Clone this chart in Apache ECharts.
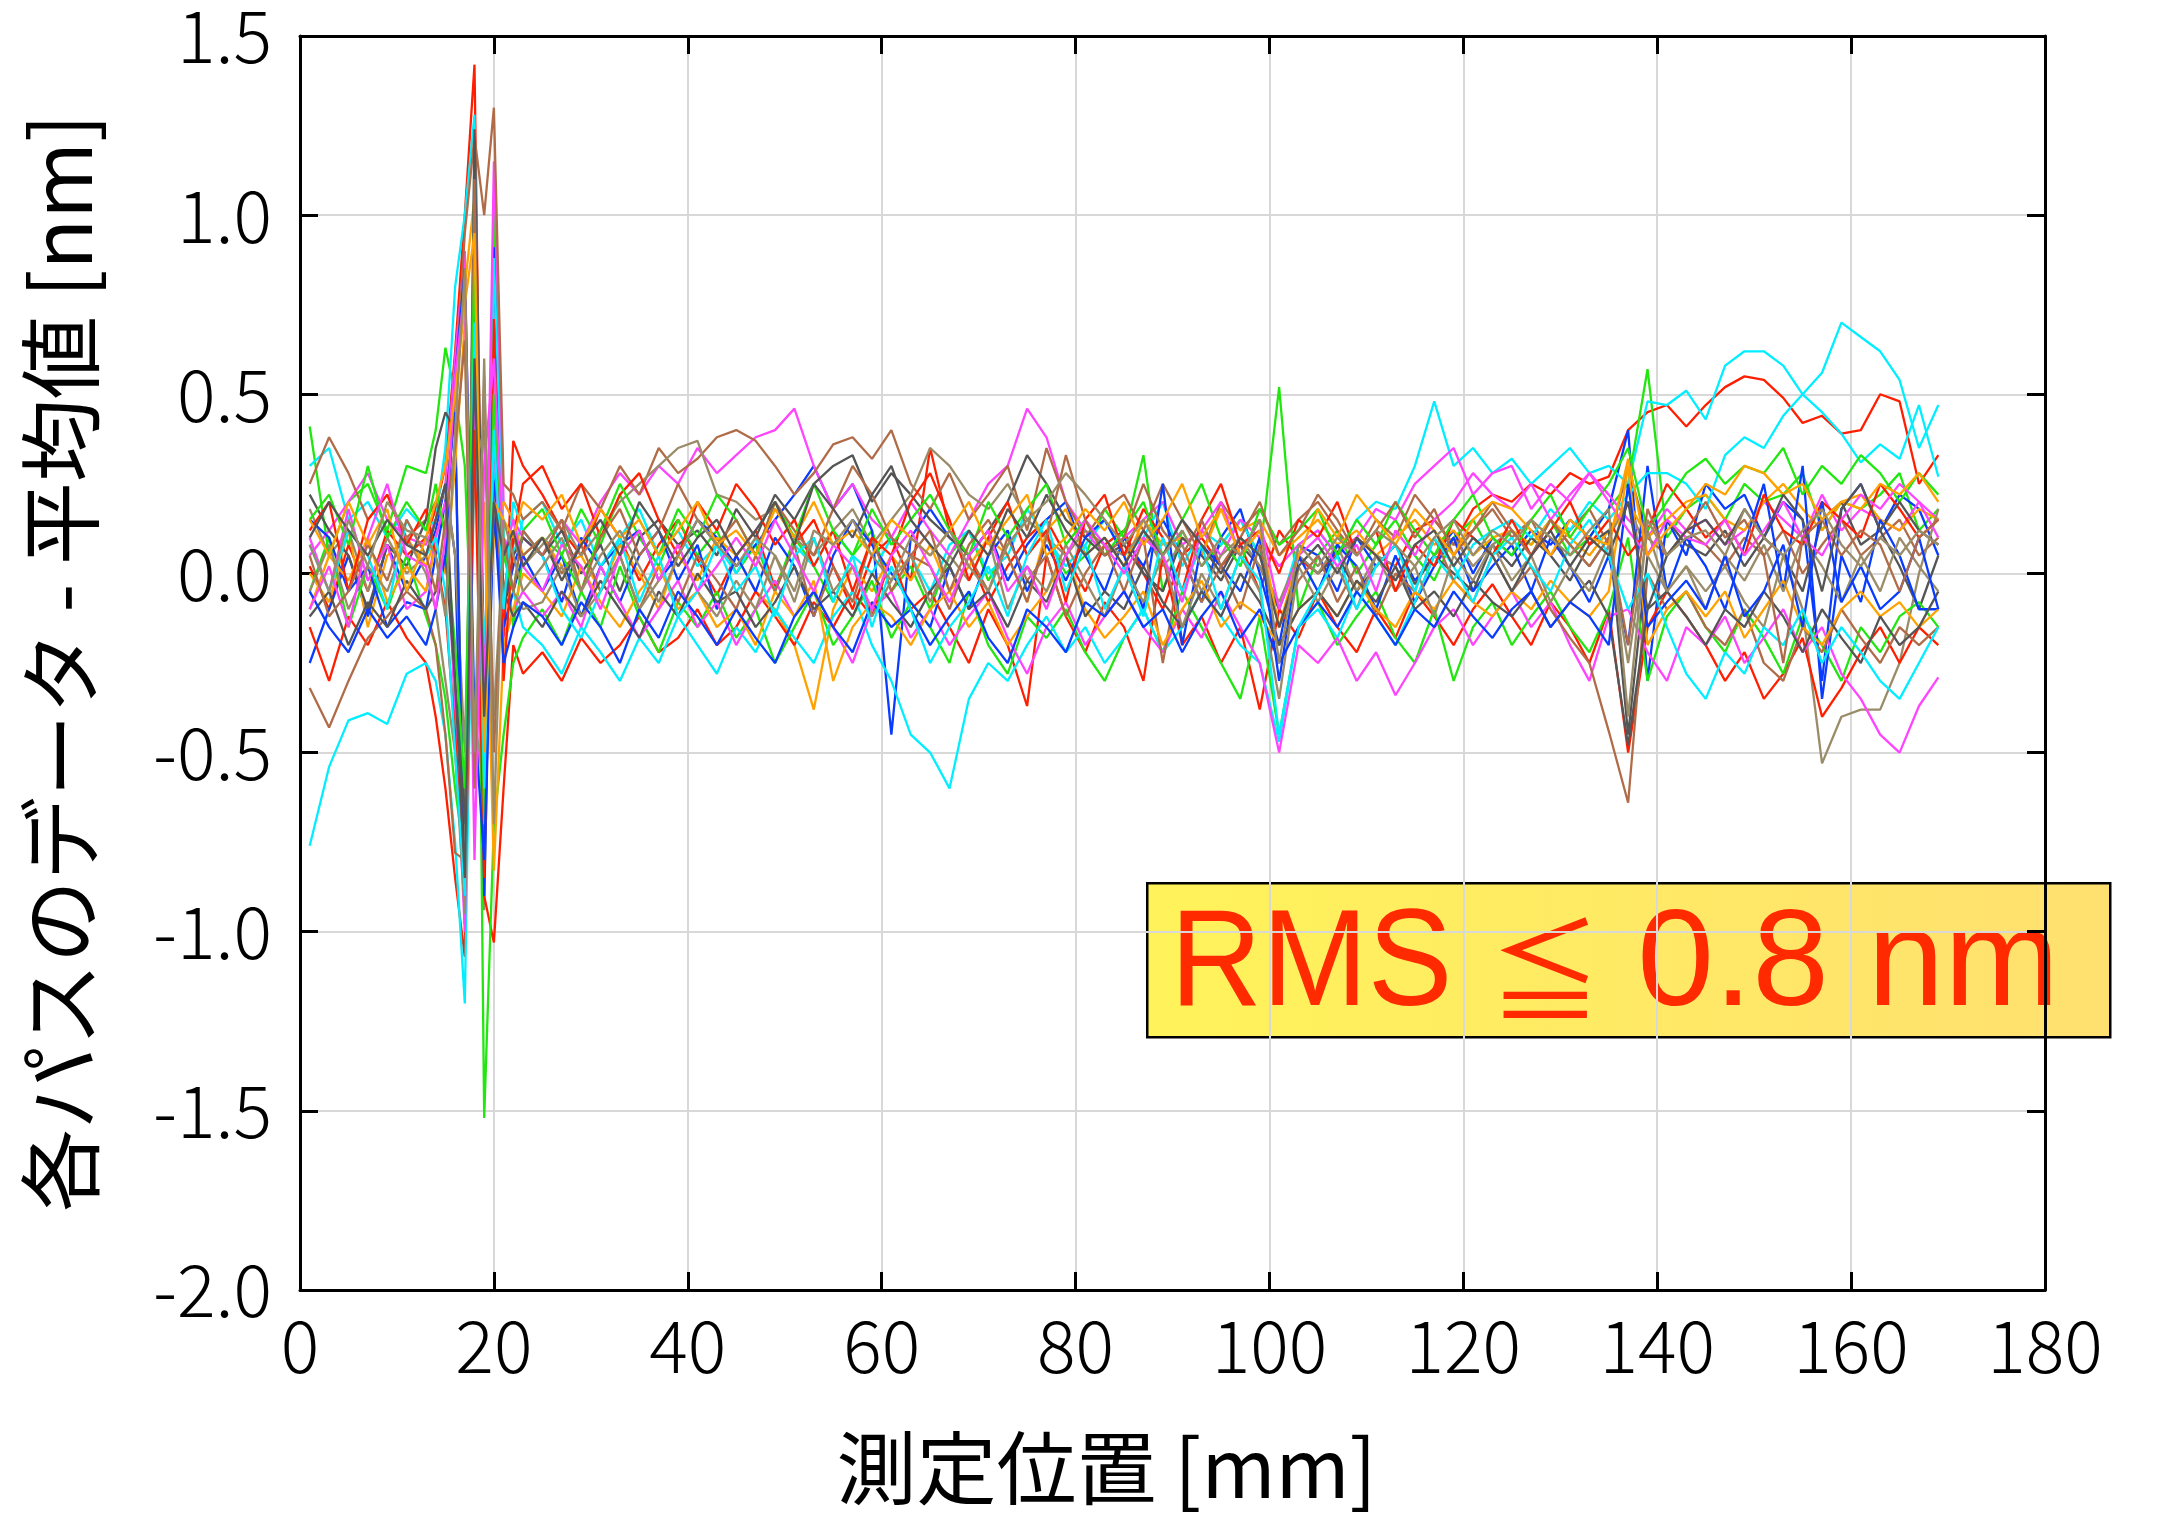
<!DOCTYPE html>
<html>
<head>
<meta charset="utf-8">
<script src="https://cdn.jsdelivr.net/npm/echarts@6/dist/echarts.min.js"></script>
<style>
  html, body { margin: 0; padding: 0; background: #fff; }
  #chart { width: 2157px; height: 1513px; }
</style>
</head>
<body>
<div id="chart"></div>
<script>
// 測定位置 [mm]
const xPos = [1,3,5,7,9,11, 13,14,15,16,17,18,19,20,21,22,23,
  25,27,29,31,33,35,37,39,41,43, 45,47,49,51,53,55,57,59,61,63,
  65,67,69,71,73,75,77,79,81,83, 85,87,89,91,93,95,97,99,101,103,
  105,107,109,111,113,115,117,119,121,123, 125,127,129,131,133,135,137,139,141,143,
  145,147,149,151,153,155,157,159,161,163, 165,167,169];

const yTicks = [-2.0, -1.5, -1.0, -0.5, 0.0, 0.5, 1.0, 1.5];
const xTicks = [0, 20, 40, 60, 80, 100, 120, 140, 160, 180];

// 各パスのデータ - 平均値 [nm]
const red1 = [0.02,-0.10,0.08,-0.05,0.12,0.05,
  0.10,0.18,0.30,0.62,1.00,1.42,-0.55,0.30,-0.20,0.37,0.30,
  0.22,0.12,0.05,0.18,0.10,-0.02,0.08,0.15,0.04,-0.06,
  0.05,0.12,-0.04,0.08,0.15,0.02,-0.10,0.05,0.10,-0.02,
  0.35,0.12,0.05,-0.08,0.02,0.10,0.15,0.05,-0.05,0.08,
  0.12,0.00,-0.10,0.05,0.10,0.02,0.08,-0.05,0.12,0.04,
  0.00,0.06,0.10,0.05,0.02,0.12,0.15,0.08,0.18,0.22,
  0.20,0.25,0.22,0.28,0.25,0.27,0.40,0.45,0.47,0.41,
  0.47,0.52,0.55,0.54,0.49,0.42,0.44,0.39,0.40,0.50,
  0.48,0.25,0.33];
const red2 = [-0.15,-0.30,-0.12,-0.20,-0.08,-0.18,
  -0.25,-0.40,-0.60,-0.85,-1.07,0.95,-0.90,-1.03,-0.60,-0.20,-0.28,
  -0.22,-0.30,-0.18,-0.25,-0.20,-0.12,-0.22,-0.18,-0.10,-0.20,
  -0.15,-0.05,-0.12,-0.20,-0.08,-0.15,-0.05,-0.12,0.05,-0.10,
  -0.05,-0.15,-0.25,-0.10,-0.20,-0.37,0.05,-0.12,-0.22,-0.08,
  -0.15,-0.30,0.05,-0.20,-0.12,-0.25,-0.15,-0.38,-0.10,-0.18,
  -0.05,-0.15,-0.22,-0.10,-0.18,-0.05,-0.12,-0.20,-0.10,-0.03,
  -0.12,-0.20,-0.08,-0.15,-0.25,-0.10,-0.50,-0.15,-0.05,-0.12,
  -0.20,-0.30,-0.22,-0.35,-0.28,-0.18,-0.40,-0.32,-0.22,-0.15,
  -0.25,-0.15,-0.20];
const red3 = [0.12,0.20,-0.05,0.15,0.22,0.08,
  0.18,0.05,-0.10,-0.45,-0.90,0.40,-0.85,0.71,-0.30,0.10,0.25,
  0.30,0.18,0.25,0.10,0.22,0.28,0.15,0.05,0.20,0.12,
  0.25,0.18,0.08,0.15,0.02,0.12,-0.05,0.10,0.05,0.20,
  0.28,0.15,-0.02,0.10,0.20,0.05,0.12,-0.08,0.15,0.22,
  0.05,0.18,0.10,-0.05,0.15,0.25,0.08,0.12,0.00,0.15,
  0.10,0.20,0.05,0.12,-0.05,0.08,0.02,0.15,0.10,0.05,
  0.15,0.05,0.12,0.20,0.08,0.15,0.05,0.12,0.25,0.18,
  0.10,0.15,0.05,0.22,0.12,0.08,0.20,0.15,0.10,0.25,
  0.18,0.10,0.15];
const green1 = [0.41,0.05,0.20,0.25,0.12,0.30,
  0.28,0.40,0.63,0.50,0.30,-0.40,-0.60,1.05,0.10,-0.15,0.05,
  0.10,0.05,0.18,0.08,0.22,0.10,0.02,0.15,0.05,0.12,
  0.00,0.08,-0.05,0.10,0.02,-0.08,0.05,0.12,-0.05,0.02,
  -0.10,0.05,0.12,-0.02,0.08,0.15,0.10,0.00,0.05,0.18,
  0.10,0.33,-0.05,0.12,0.02,0.08,0.15,0.05,0.52,-0.10,
  0.05,0.12,0.00,0.08,0.15,0.05,-0.02,0.10,0.15,0.05,
  0.12,0.08,0.15,0.05,0.10,0.18,0.25,0.57,0.10,0.18,
  0.22,0.15,0.25,0.20,0.22,0.28,0.12,0.20,0.18,0.22,
  0.28,0.12,0.18];
const green2 = [-0.05,0.10,-0.15,0.02,-0.10,0.05,
  -0.12,-0.20,-0.35,-0.60,-0.80,1.10,-1.52,-0.70,-0.45,-0.25,-0.18,
  -0.10,-0.20,-0.05,-0.15,0.02,-0.12,-0.22,-0.08,-0.15,-0.05,
  -0.18,-0.10,-0.25,-0.15,-0.05,-0.20,-0.12,-0.02,-0.18,-0.08,
  -0.15,-0.25,-0.05,-0.20,-0.28,-0.12,-0.18,-0.10,-0.22,-0.30,
  -0.18,-0.10,-0.22,-0.05,-0.15,-0.25,-0.35,-0.12,-0.45,-0.15,
  -0.08,-0.20,-0.12,-0.05,-0.18,-0.25,-0.10,-0.30,-0.15,-0.08,
  -0.20,-0.12,-0.05,-0.15,-0.22,-0.10,0.10,-0.30,-0.12,-0.05,
  -0.15,-0.22,-0.10,-0.18,-0.28,-0.12,-0.20,-0.30,-0.15,-0.22,
  -0.12,-0.08,-0.15];
const green3 = [0.15,0.22,0.08,0.30,0.10,0.20,
  0.12,0.25,0.10,-0.20,-0.60,0.90,-0.70,0.50,0.05,-0.05,0.12,
  0.18,0.05,-0.05,0.12,0.25,0.15,0.05,0.18,0.10,0.22,
  0.15,0.05,0.20,0.10,0.25,0.12,0.05,0.18,0.08,0.15,
  0.22,0.12,0.05,0.20,0.10,0.18,0.25,0.08,0.15,0.05,
  0.12,0.20,0.05,0.15,0.25,0.10,0.02,0.18,0.08,0.12,
  0.18,0.05,0.15,0.08,0.20,0.12,0.05,0.15,0.22,0.10,
  0.05,0.15,0.22,0.10,0.18,0.25,0.35,0.12,0.20,0.28,
  0.32,0.25,0.30,0.28,0.35,0.22,0.30,0.25,0.33,0.28,
  0.20,0.28,0.22];
const blue1 = [-0.25,-0.10,0.05,-0.12,0.08,-0.05,
  0.05,0.12,0.25,0.05,-0.95,0.60,-0.85,0.91,-0.10,0.02,0.10,
  0.05,-0.08,0.10,0.02,0.08,0.12,-0.02,0.05,0.15,0.10,
  0.02,0.08,0.15,0.22,0.30,0.18,0.25,0.12,-0.45,0.10,
  0.18,0.10,0.05,0.12,-0.02,0.08,0.15,0.20,0.05,-0.05,
  0.10,0.02,0.15,0.05,-0.08,0.10,0.18,0.00,-0.20,0.08,
  0.05,-0.05,0.10,0.02,0.08,-0.02,0.05,0.12,0.00,0.10,
  0.05,0.12,0.08,0.15,0.10,0.18,0.40,-0.30,0.15,0.05,
  0.25,0.18,0.22,0.10,0.20,0.15,-0.30,0.18,0.25,0.12,
  0.22,0.18,0.05];
const blue2 = [0.15,0.10,-0.05,0.02,-0.15,-0.08,
  -0.10,0.05,0.20,0.45,-0.98,1.10,-0.90,0.30,-0.15,-0.05,0.05,
  -0.05,0.05,-0.12,0.02,-0.08,0.05,0.12,-0.02,0.08,-0.10,
  0.05,-0.05,0.10,0.02,-0.12,0.05,0.15,0.08,0.00,-0.08,
  -0.15,0.02,-0.10,0.05,0.12,-0.05,0.08,-0.02,0.10,0.15,
  0.05,-0.10,0.25,-0.20,0.08,0.02,-0.05,0.10,-0.30,0.05,
  -0.05,0.08,0.02,-0.10,0.05,-0.08,0.02,0.10,-0.05,0.02,
  0.08,-0.05,0.10,0.02,-0.08,0.05,-0.20,0.30,-0.05,0.10,
  0.02,-0.10,0.08,0.25,-0.05,0.30,-0.35,0.05,-0.08,0.15,
  0.05,-0.10,-0.10];
const blue3 = [-0.05,-0.15,-0.22,-0.10,-0.18,-0.12,
  -0.20,-0.10,0.05,0.55,0.85,-0.40,-0.80,0.20,-0.25,-0.15,-0.08,
  -0.12,-0.20,-0.08,-0.15,-0.25,-0.10,-0.18,-0.05,-0.12,-0.20,
  -0.10,-0.18,-0.25,-0.12,-0.05,-0.15,-0.22,-0.08,-0.15,-0.10,
  -0.20,-0.12,-0.05,-0.18,-0.25,-0.10,-0.15,-0.22,-0.08,-0.12,
  -0.05,-0.15,-0.10,-0.22,-0.12,-0.05,-0.18,-0.10,-0.25,-0.15,
  -0.08,-0.15,-0.05,-0.12,-0.20,-0.10,-0.15,-0.05,-0.12,-0.18,
  -0.10,-0.05,-0.15,-0.08,-0.12,-0.20,0.25,-0.15,-0.08,-0.02,
  -0.10,0.05,-0.12,-0.05,0.08,-0.15,0.20,-0.08,0.02,-0.10,
  -0.05,0.10,-0.10];
const cyan1 = [0.30,0.35,0.15,0.20,0.10,0.18,
  0.12,0.15,0.35,0.80,1.00,1.28,-0.70,0.88,0.10,0.05,0.15,
  0.20,0.08,0.15,0.02,0.10,0.18,0.05,0.12,0.02,0.08,
  0.00,0.10,-0.05,0.08,0.02,0.12,0.05,0.00,0.10,0.05,
  -0.05,0.08,0.12,0.00,0.05,0.18,0.10,0.02,0.08,0.15,
  0.05,0.10,0.20,0.02,0.12,0.08,0.15,0.05,-0.10,0.08,
  0.12,0.05,0.15,0.20,0.18,0.30,0.48,0.30,0.35,0.28,
  0.32,0.25,0.30,0.35,0.28,0.30,0.25,0.48,0.47,0.51,
  0.43,0.58,0.62,0.62,0.58,0.50,0.56,0.70,0.66,0.62,
  0.54,0.35,0.47];
const cyan2 = [-0.76,-0.54,-0.41,-0.39,-0.42,-0.28,
  -0.25,-0.30,-0.45,-0.75,-1.20,0.40,-0.20,0.30,0.10,-0.05,-0.15,
  -0.20,-0.28,-0.15,-0.22,-0.30,-0.18,-0.25,-0.12,-0.20,-0.28,
  -0.15,-0.22,-0.10,-0.18,-0.25,-0.12,-0.05,-0.20,-0.30,-0.45,
  -0.50,-0.60,-0.35,-0.25,-0.30,-0.20,-0.12,-0.22,-0.15,-0.25,
  -0.18,-0.10,-0.22,-0.15,-0.05,-0.12,-0.20,-0.25,-0.47,-0.15,
  -0.10,-0.18,-0.05,-0.12,-0.20,-0.08,0.05,-0.02,0.08,0.12,
  0.15,0.10,0.18,0.12,0.20,0.15,0.22,0.28,0.28,0.25,
  0.18,0.33,0.38,0.35,0.44,0.50,0.45,0.39,0.31,0.36,
  0.32,0.47,0.27];
const cyan3 = [0.08,-0.05,0.12,0.05,-0.10,0.15,
  0.05,0.10,-0.05,-0.50,-0.90,0.70,-0.60,0.40,-0.10,0.20,0.12,
  0.05,-0.10,-0.18,-0.05,0.10,-0.08,0.05,-0.12,-0.05,0.08,
  -0.05,0.02,-0.12,0.05,0.10,-0.08,0.05,-0.15,0.02,-0.10,
  -0.25,-0.15,-0.08,0.02,-0.12,0.05,0.15,-0.05,0.08,-0.10,
  0.02,-0.12,0.10,-0.05,0.08,-0.10,0.05,-0.02,-0.45,-0.15,
  -0.05,0.05,-0.10,0.02,0.08,-0.05,0.10,0.02,-0.08,0.05,
  0.10,0.02,-0.05,0.08,0.15,0.05,-0.10,0.00,-0.15,-0.28,
  -0.35,-0.22,-0.28,-0.15,-0.20,-0.10,-0.25,-0.15,-0.22,-0.30,
  -0.35,-0.25,-0.15];
const magenta1 = [0.05,0.12,0.20,0.28,0.15,0.10,
  0.08,0.15,0.25,0.60,0.90,-0.60,-0.40,1.15,0.20,0.15,0.10,
  0.05,0.15,0.08,0.20,0.28,0.22,0.30,0.25,0.35,0.28,
  0.33,0.38,0.40,0.46,0.30,0.18,0.25,0.15,0.10,0.20,
  0.12,0.05,0.15,0.25,0.30,0.46,0.38,0.20,0.12,0.05,
  0.10,0.15,0.20,0.08,0.12,0.05,0.15,0.10,0.02,0.08,
  0.12,0.05,0.10,0.18,0.15,0.25,0.30,0.35,0.22,0.28,
  0.30,0.18,0.25,0.20,0.28,0.22,0.15,0.10,0.18,0.12,
  0.15,0.08,0.12,0.20,0.15,0.10,0.22,0.12,0.18,0.15,
  0.12,0.20,0.15];
const magenta2 = [0.10,-0.05,0.18,-0.02,0.08,-0.10,
  -0.05,0.10,0.20,-0.40,-1.00,0.50,-0.30,0.40,-0.20,-0.10,-0.05,
  -0.12,-0.05,-0.15,0.02,-0.08,-0.18,-0.10,-0.02,-0.15,-0.08,
  -0.20,-0.10,-0.02,-0.12,-0.05,-0.15,-0.25,-0.10,-0.05,-0.18,
  -0.10,-0.20,-0.12,-0.05,-0.18,-0.28,-0.15,-0.08,-0.20,-0.12,
  -0.05,-0.15,-0.22,-0.10,-0.18,-0.05,-0.15,-0.25,-0.50,-0.20,
  -0.25,-0.18,-0.30,-0.22,-0.34,-0.25,-0.15,-0.10,-0.20,-0.12,
  -0.05,-0.15,-0.08,-0.20,-0.30,-0.12,-0.10,-0.22,-0.30,-0.15,
  -0.20,-0.12,-0.25,-0.18,-0.10,-0.22,-0.15,-0.28,-0.35,-0.45,
  -0.50,-0.37,-0.29];
const magenta3 = [-0.10,0.02,-0.15,0.10,0.25,0.05,
  0.02,-0.10,0.10,0.55,0.80,-0.80,0.30,0.60,0.05,0.15,0.02,
  -0.05,0.08,0.02,-0.10,0.05,0.12,-0.02,0.08,-0.05,0.02,
  0.10,0.02,0.15,0.05,-0.05,0.08,0.02,-0.10,0.05,0.12,
  0.02,-0.08,0.05,0.12,-0.05,0.02,-0.10,0.05,0.15,0.08,
  0.00,0.10,0.05,-0.08,0.12,0.20,0.05,0.15,-0.10,0.05,
  0.10,0.02,0.08,-0.05,0.12,0.05,0.15,0.20,0.28,0.22,
  0.18,0.25,0.15,0.22,0.28,0.20,0.12,0.05,0.15,0.10,
  0.08,0.15,0.05,0.12,0.20,0.10,0.05,0.15,0.22,0.18,
  0.25,0.20,0.10];
const brown1 = [0.25,0.38,0.28,0.15,0.22,0.10,
  0.15,0.20,0.12,0.50,0.95,1.22,1.00,1.30,0.25,0.22,0.15,
  0.20,0.12,0.25,0.18,0.30,0.22,0.35,0.28,0.32,0.38,
  0.40,0.37,0.30,0.22,0.28,0.36,0.38,0.32,0.40,0.25,
  0.18,0.28,0.15,0.22,0.30,0.12,0.35,0.20,0.10,0.18,
  0.22,0.12,0.25,0.15,0.05,0.20,0.12,0.18,0.08,0.15,
  0.20,0.12,0.05,0.15,0.10,0.22,0.15,0.08,0.12,0.18,
  0.10,0.15,0.05,0.12,0.18,0.08,0.30,0.10,0.05,0.12,
  0.08,0.02,0.10,0.05,0.12,0.00,0.08,0.15,0.05,0.10,
  0.15,0.05,0.10];
const brown2 = [-0.32,-0.43,-0.30,-0.18,-0.12,-0.05,
  -0.10,-0.20,-0.45,-0.78,-0.80,1.10,-0.60,0.20,-0.05,0.10,0.05,
  0.10,0.00,0.08,-0.05,0.05,-0.10,0.02,-0.08,0.05,-0.02,
  -0.10,0.05,-0.05,0.08,-0.12,0.02,-0.08,0.10,-0.05,0.05,
  0.02,-0.10,0.05,-0.05,0.10,-0.02,0.05,-0.12,0.00,0.08,
  -0.05,0.10,-0.25,0.05,-0.08,0.02,-0.10,0.08,-0.15,-0.02,
  0.05,-0.08,0.02,-0.12,0.00,-0.05,0.10,-0.02,-0.08,0.05,
  -0.05,0.02,-0.10,-0.18,-0.25,-0.44,-0.64,0.00,-0.10,-0.05,
  -0.15,-0.20,-0.10,-0.25,-0.30,-0.15,-0.22,-0.10,-0.18,-0.25,
  -0.15,-0.20,-0.15];
const brown3 = [0.05,-0.12,-0.05,0.08,-0.02,0.15,
  0.05,-0.05,0.15,0.35,0.65,-0.60,0.55,-0.50,0.10,-0.05,0.12,
  0.05,0.15,-0.05,0.10,0.18,0.05,0.12,0.25,0.15,0.08,
  0.15,0.05,0.20,0.12,0.05,0.18,0.30,0.22,0.10,0.05,
  0.12,-0.05,0.08,0.15,0.05,-0.08,0.10,0.33,0.15,0.05,
  0.10,0.25,0.12,0.05,0.15,0.02,0.10,0.20,0.05,0.12,
  0.22,0.15,0.05,0.12,0.20,0.10,0.18,0.05,0.12,0.20,
  0.12,0.05,0.15,0.08,0.02,0.10,-0.20,0.18,0.05,0.12,
  0.20,0.10,0.15,0.05,-0.25,0.10,0.15,0.05,0.12,0.08,
  -0.05,0.10,0.15];
const orange1 = [0.00,-0.08,0.12,-0.15,0.05,0.10,
  0.02,0.10,0.20,0.50,0.80,1.05,-0.30,0.10,0.20,0.15,0.05,
  0.10,0.02,0.05,-0.05,0.08,0.00,-0.10,0.05,-0.02,0.10,
  0.05,-0.05,-0.10,-0.20,-0.38,-0.10,0.02,-0.05,0.05,-0.02,
  0.08,-0.05,0.02,0.10,0.05,-0.08,0.12,0.18,0.05,0.10,
  0.02,0.15,0.08,0.10,0.05,0.18,0.12,0.15,0.05,0.10,
  0.15,0.08,0.12,0.05,0.10,0.15,0.08,0.12,0.05,0.10,
  0.12,0.08,0.15,0.10,0.05,0.12,0.20,0.10,0.15,0.20,
  0.22,0.15,0.12,0.20,0.25,0.18,0.12,0.20,0.22,0.15,
  0.12,0.18,0.15];
const orange2 = [-0.10,0.05,-0.02,0.10,-0.08,0.02,
  -0.05,0.08,0.00,0.30,0.70,-0.50,0.20,-0.83,-0.20,-0.10,0.00,
  -0.05,-0.12,0.02,-0.08,-0.15,-0.05,0.02,-0.10,-0.05,-0.15,
  -0.10,-0.20,-0.05,-0.12,-0.02,-0.30,-0.15,-0.08,-0.12,-0.20,
  -0.10,-0.05,-0.15,-0.08,-0.20,-0.12,-0.05,0.05,-0.10,-0.18,
  -0.12,-0.05,-0.20,-0.10,-0.02,-0.15,-0.08,-0.12,-0.20,-0.10,
  -0.05,-0.12,-0.02,-0.10,-0.15,-0.05,-0.10,-0.02,-0.08,-0.12,
  -0.05,-0.10,-0.02,-0.08,-0.12,-0.05,0.30,-0.20,-0.10,-0.05,
  -0.12,-0.05,-0.18,-0.10,-0.02,-0.15,-0.20,-0.10,-0.05,-0.12,
  -0.08,-0.15,-0.10];
const orange3 = [0.15,0.05,0.20,0.08,0.18,-0.05,
  0.10,0.20,0.30,0.50,0.75,0.95,-0.50,0.20,0.15,0.10,0.20,
  0.15,0.22,0.08,0.18,0.10,0.15,0.05,0.12,0.20,0.08,
  0.12,0.05,0.18,0.10,0.20,0.08,0.12,0.05,0.15,0.10,
  0.05,0.12,0.20,0.08,0.15,0.22,0.05,0.10,0.18,0.12,
  0.20,0.08,0.15,0.25,0.10,0.18,0.05,0.12,-0.15,0.05,
  0.18,0.10,0.22,0.15,0.08,0.18,0.12,0.05,0.15,0.20,
  0.18,0.12,0.05,0.15,0.10,0.08,0.32,0.05,0.12,0.18,
  0.25,0.22,0.30,0.28,0.22,0.25,0.15,0.20,0.18,0.25,
  0.22,0.28,0.20];
const gray1 = [0.22,0.12,0.05,-0.10,0.08,0.02,
  0.15,0.35,0.45,0.40,-0.87,1.24,-0.30,0.15,-0.10,0.05,0.10,
  0.05,0.12,0.00,0.08,-0.05,0.10,0.15,0.08,0.12,0.05,
  0.18,0.10,0.22,0.15,0.25,0.30,0.33,0.20,0.28,0.22,
  0.15,0.10,0.05,0.12,0.20,0.33,0.25,0.15,0.10,0.05,
  0.08,0.00,-0.05,0.10,0.05,-0.02,0.08,0.02,-0.10,0.05,
  0.00,0.05,-0.05,0.02,0.08,-0.03,0.05,0.00,-0.05,0.08,
  0.02,0.10,0.05,-0.02,0.08,0.12,-0.45,0.05,0.15,0.08,
  0.05,0.12,0.02,0.10,0.05,-0.05,0.15,0.20,0.08,0.12,
  0.02,-0.10,0.05];
const gray2 = [-0.12,-0.05,-0.20,-0.08,-0.15,-0.02,
  -0.10,-0.05,0.05,-0.30,-0.70,0.80,-0.60,0.40,-0.05,-0.12,-0.08,
  -0.15,-0.05,-0.12,-0.02,-0.10,-0.18,-0.05,-0.12,0.00,-0.08,
  -0.05,-0.15,-0.08,0.02,-0.10,-0.05,-0.12,0.00,-0.08,-0.15,
  -0.05,0.02,-0.10,-0.05,-0.15,-0.02,-0.08,0.05,-0.12,-0.05,
  -0.10,0.02,-0.08,-0.15,-0.05,-0.12,0.00,-0.08,-0.20,-0.10,
  -0.05,-0.12,-0.02,-0.08,0.02,-0.10,-0.05,-0.12,-0.02,-0.08,
  -0.12,-0.05,-0.15,-0.08,-0.02,-0.12,-0.48,-0.10,-0.05,-0.12,
  -0.20,-0.10,-0.15,-0.05,-0.12,-0.22,-0.10,-0.18,-0.25,-0.12,
  -0.20,-0.15,-0.05];
const gray3 = [0.10,0.20,0.12,0.05,0.15,0.08,
  0.05,0.15,0.25,-0.30,-0.85,0.60,-0.40,0.20,0.05,0.12,0.02,
  0.10,-0.02,0.08,0.15,0.05,0.20,0.12,0.02,0.10,0.15,
  0.05,0.12,0.20,0.08,0.25,0.18,0.10,0.22,0.30,0.15,
  0.08,0.02,0.12,0.05,0.18,0.10,0.22,0.12,0.05,0.10,
  0.02,0.12,0.05,0.15,0.08,0.00,0.10,0.05,-0.15,0.02,
  0.08,0.00,0.10,0.05,-0.02,0.08,0.12,0.02,0.10,0.05,
  -0.05,0.05,0.12,0.02,0.10,0.05,0.20,-0.10,0.05,0.12,
  0.15,0.08,0.18,0.10,0.22,0.15,-0.05,0.18,0.25,0.12,
  0.20,0.12,0.08];
const khaki1 = [0.18,0.05,0.12,-0.05,0.10,0.00,
  0.05,0.15,0.25,0.05,-0.50,0.70,-0.94,0.50,0.05,0.10,0.02,
  0.08,0.15,0.05,0.12,0.20,0.25,0.30,0.35,0.37,0.22,
  0.20,0.15,0.18,0.10,0.05,0.12,0.18,0.08,0.15,0.22,
  0.35,0.30,0.22,0.18,0.25,0.15,0.10,0.05,0.12,0.08,
  0.05,0.12,0.02,0.08,-0.05,0.05,0.10,0.02,-0.08,0.05,
  0.00,0.08,-0.05,0.05,0.02,-0.08,0.05,0.10,0.02,0.08,
  0.12,0.05,0.15,0.08,0.02,0.10,0.20,0.05,-0.05,0.02,
  -0.05,0.02,-0.08,-0.15,0.05,-0.10,-0.53,-0.40,-0.38,-0.38,
  -0.25,0.00,0.18];
const khaki2 = [-0.05,0.08,-0.10,0.02,-0.05,0.10,
  0.00,-0.10,-0.30,-0.50,-0.95,0.30,0.40,-0.40,0.10,-0.05,-0.10,
  -0.08,0.02,-0.12,-0.05,0.05,-0.10,-0.02,0.08,-0.05,-0.12,
  -0.02,-0.10,0.05,-0.08,0.10,-0.05,0.02,-0.12,-0.02,0.05,
  -0.08,0.05,-0.02,0.10,-0.10,0.02,-0.05,0.08,-0.02,-0.12,
  0.02,-0.08,0.05,-0.15,0.00,-0.10,0.05,-0.05,-0.35,0.02,
  -0.08,0.02,-0.10,0.05,-0.05,0.02,-0.12,0.05,-0.02,0.08,
  -0.02,0.05,-0.08,0.02,-0.05,0.08,-0.25,0.12,-0.05,0.02,
  -0.10,0.05,-0.02,0.08,-0.05,0.10,0.02,-0.08,0.05,-0.05,
  0.10,0.02,-0.05];
const khaki3 = [0.08,-0.05,0.15,0.02,0.20,0.12,
  0.10,0.05,-0.12,0.40,0.85,-0.50,0.60,-0.70,0.15,0.05,-0.05,
  0.02,0.10,-0.05,0.05,0.12,0.02,-0.08,0.05,0.15,0.08,
  0.02,0.10,0.05,-0.05,0.12,0.08,0.15,0.05,-0.02,0.10,
  0.05,0.12,0.02,-0.05,0.08,0.15,0.20,0.28,0.22,0.15,
  0.08,0.15,0.05,0.12,0.02,0.10,0.05,0.15,-0.25,0.08,
  0.02,0.10,0.05,0.12,0.08,0.02,0.10,0.15,0.05,0.12,
  0.08,0.15,0.10,0.05,0.12,0.18,-0.40,0.15,0.05,0.10,
  0.12,0.05,0.18,0.10,0.05,0.12,0.18,0.08,0.02,0.10,
  0.05,0.12,0.08];

const passes = [
  ['#ff1f00', red1], ['#22e610', green1], ['#0a3cff', blue1],
  ['#00eeff', cyan1], ['#ff44ff', magenta1], ['#b06c48', brown1],
  ['#ffa200', orange1], ['#555555', gray1], ['#9a8c68', khaki1],
  ['#ff1f00', red2], ['#22e610', green2], ['#0a3cff', blue2],
  ['#00eeff', cyan2], ['#ff44ff', magenta2], ['#b06c48', brown2],
  ['#ffa200', orange2], ['#555555', gray2], ['#9a8c68', khaki2],
  ['#ff1f00', red3], ['#22e610', green3], ['#0a3cff', blue3],
  ['#00eeff', cyan3], ['#ff44ff', magenta3], ['#b06c48', brown3],
  ['#ffa200', orange3], ['#555555', gray3], ['#9a8c68', khaki3]
];

const chart = echarts.init(document.getElementById('chart'));
const fontJp = '"Noto Sans CJK JP", "Noto Sans", sans-serif';
const fontRms = '"Liberation Sans", Arial, sans-serif';

const axisBase = {
  axisLine: { onZero: false, lineStyle: { color: '#000', width: 3 } },
  axisTick: { inside: true, length: 18, lineStyle: { color: '#000', width: 3 } },
  splitLine: { show: false }
};

const option = {
  animation: false,
  backgroundColor: '#fff',
  grid: { left: 300, right: 112, top: 34, bottom: 220, containLabel: false },
  xAxis: [{
    ...axisBase,
    type: 'value', min: xTicks[0], max: xTicks[xTicks.length - 1], interval: 20,
    name: '測定位置 [mm]', nameLocation: 'middle', nameGap: 138,
    nameTextStyle: { fontSize: 80, color: '#000', fontFamily: fontJp, padding: [0, 132, 0, 0] },
    axisLabel: { fontSize: 72, color: '#000', margin: 20, fontFamily: fontJp, fontWeight: 300 },
    splitLine: { show: true, lineStyle: { color: '#d8d8d8', width: 2 } }
  }, {
    ...axisBase,
    type: 'value', position: 'top', min: 0, max: 180, interval: 20,
    axisLabel: { show: false }
  }],
  yAxis: [{
    ...axisBase,
    type: 'value', min: yTicks[0], max: yTicks[yTicks.length - 1], interval: 0.5,
    name: '各パスのデータ - 平均値 [nm]', nameLocation: 'middle', nameGap: 198,
    nameTextStyle: { fontSize: 83, color: '#000', fontFamily: fontJp },
    axisLabel: { fontSize: 72, color: '#000', margin: 28, fontFamily: fontJp, fontWeight: 300,
      formatter: v => v.toFixed(1) },
    splitLine: { show: true, lineStyle: { color: '#d8d8d8', width: 2 } }
  }, {
    ...axisBase,
    type: 'value', position: 'right', min: -2, max: 1.5, interval: 0.5,
    axisLabel: { show: false }
  }],
  series: passes.map(([color, vals]) => ({
    type: 'line',
    data: xPos.map((x, i) => [x, vals[i]]),
    showSymbol: false,
    lineStyle: { color: color, width: 2.3 },
    itemStyle: { color: color }
  })),
  graphic: [{
    type: 'group',
    left: 1146, top: 882,
    children: [{
      type: 'rect',
      shape: { x: 0, y: 0, width: 963, height: 154 },
      style: {
        fill: new echarts.graphic.LinearGradient(0, 0, 1, 0, [
          { offset: 0, color: '#fff35a' },
          { offset: 1, color: '#ffe070' }
        ]),
        stroke: '#000', lineWidth: 2.5
      }
    }, {
      type: 'text',
      x: 23, y: 84, scaleX: 0.92,
      style: {
        text: 'RMS', fill: '#ff2a00', font: '138px ' + fontRms,
        textAlign: 'left', textVerticalAlign: 'middle'
      }
    }, {
      type: 'text',
      x: 398, y: 87,
      style: {
        text: '≦', fill: '#ff2a00', font: '112px ' + fontJp,
        textAlign: 'center', textVerticalAlign: 'middle'
      }
    }, {
      type: 'text',
      x: 490, y: 84,
      style: {
        text: '0.8 nm', fill: '#ff2a00', font: '138px ' + fontRms,
        textAlign: 'left', textVerticalAlign: 'middle'
      }
    }]
  }]
};

chart.setOption(option);
</script>
</body>
</html>
